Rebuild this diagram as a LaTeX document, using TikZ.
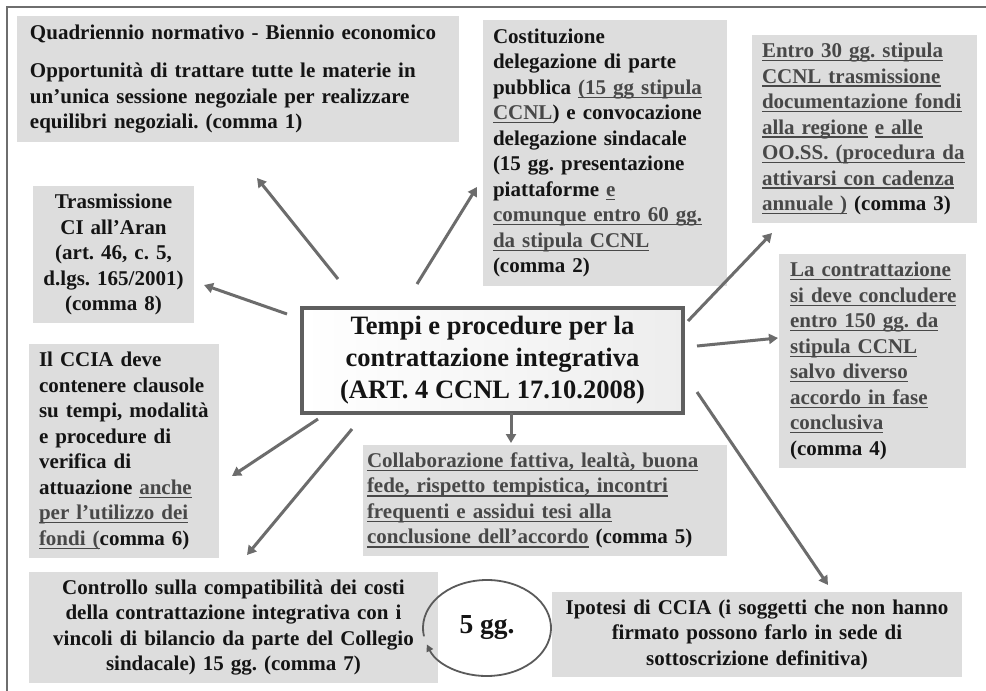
\documentclass[tikz,border=0pt]{standalone}
\usepackage{fontspec}
\setmainfont{Liberation Serif}
\usetikzlibrary{arrows.meta,shapes.geometric}
\frenchspacing

\definecolor{boxgray}{RGB}{221,221,221}
\definecolor{linkgray}{RGB}{108,108,108}
\definecolor{framegray}{RGB}{110,110,110}
\definecolor{ulgray}{RGB}{72,72,72}
\definecolor{coreborder}{RGB}{95,95,95}
\definecolor{inkdark}{RGB}{20,20,20}

% one printed line, never broken by TeX
\newcommand{\txl}[1]{\mbox{#1}}
% underlined passage: rule drawn under the measured text
\newcommand{\ulg}[1]{\textcolor{ulgray}{\setbox0\hbox{#1}\rlap{\rule[-3.6pt]{\wd0}{1.2pt}}\box0}}
\newcommand{\bodyfont}{\fontsize{21}{25.5}\selectfont\bfseries}

\tikzset{
  panel/.style={fill=boxgray, anchor=north west, inner ysep=0pt, outer sep=0pt,
                align=left, font=\bodyfont, text=inkdark},
  cpanel/.style={panel, align=center},
  link/.style={draw=linkgray, line width=3pt, -{Triangle[length=9pt,width=10pt]}},
  loopline/.style={draw=ulgray!90, line width=1.8pt, -{Triangle[length=7pt,width=7pt]}}
}

\begin{document}
\begin{tikzpicture}[x=1pt,y=-1pt]
\useasboundingbox (0,0) rectangle (986,691);
\fill[white] (0,0) rectangle (986,691);

% frame
\draw[framegray, line width=2pt] (7,691) -- (7,7) -- (986,7);

% central topic
\node[draw=coreborder, line width=3.5pt, left color=white, right color=gray!14,
      minimum width=381pt, minimum height=105pt, anchor=north west, outer sep=0pt,
      inner sep=0pt, align=center, text=inkdark,
      font=\fontsize{26.5}{32}\selectfont\bfseries] (core) at (302,308)
  {Tempi e procedure per la\\contrattazione integrativa\\(ART. 4 CCNL 17.10.2008)};

% comma 1
\node[panel, minimum width=442pt, minimum height=126pt, text width=416pt, inner xsep=13pt] (quad) at (17,16)
  {\txl{Quadriennio normativo - Biennio economico}\\[13pt]
   \txl{Opportunità di trattare tutte le materie in}\\
   \txl{un’unica sessione negoziale per realizzare}\\
   \txl{equilibri negoziali. (comma 1)}};

% comma 2
\node[panel, minimum width=244pt, minimum height=266pt, text width=224pt, inner xsep=10pt] (cost) at (483,20)
  {\txl{Costituzione}\\
   \txl{delegazione di parte}\\
   \txl{pubblica \ulg{(15 gg stipula}}\\
   \txl{\ulg{CCNL}) e convocazione}\\
   \txl{delegazione sindacale}\\
   \txl{(15 gg. presentazione}\\
   \txl{piattaforme \ulg{e}}\\
   \txl{\ulg{comunque entro 60 gg.}}\\
   \txl{\ulg{da stipula CCNL}}\\
   \txl{(comma 2)}};

% comma 3
\node[panel, minimum width=225pt, minimum height=188pt, text width=205pt, inner xsep=10pt] (entro) at (752,35)
  {\txl{\ulg{Entro 30 gg. stipula}}\\
   \txl{\ulg{CCNL trasmissione}}\\
   \txl{\ulg{documentazione fondi}}\\
   \txl{\ulg{alla regione} \ulg{e alle}}\\
   \txl{\ulg{OO.SS. (procedura da}}\\
   \txl{\ulg{attivarsi con cadenza}}\\
   \txl{\ulg{annuale )} (comma 3)}};

% comma 4
\node[panel, minimum width=187pt, minimum height=214pt, text width=165pt, inner xsep=11pt] (conc) at (779,254)
  {\txl{\ulg{La contrattazione}}\\
   \txl{\ulg{si deve concludere}}\\
   \txl{\ulg{entro 150 gg. da}}\\
   \txl{\ulg{stipula CCNL}}\\
   \txl{\ulg{salvo diverso}}\\
   \txl{\ulg{accordo in fase}}\\
   \txl{\ulg{conclusiva}}\\
   \txl{(comma 4)}};

% comma 8
\node[cpanel, minimum width=161pt, minimum height=137pt, text width=151pt, inner xsep=5pt] (tras) at (33,186)
  {\txl{Trasmissione}\\
   \txl{CI all’Aran}\\
   \txl{(art. 46, c. 5,}\\
   \txl{d.lgs. 165/2001)}\\
   \txl{(comma 8)}};

% comma 6
\node[panel, minimum width=190pt, minimum height=214pt, text width=170pt, inner xsep=10pt] (ccia) at (29,344)
  {\txl{Il CCIA deve}\\
   \txl{contenere clausole}\\
   \txl{su tempi, modalità}\\
   \txl{e procedure di}\\
   \txl{verifica di}\\
   \txl{attuazione \ulg{anche}}\\
   \txl{\ulg{per l’utilizzo dei}}\\
   \txl{\ulg{fondi (}comma 6)}};

% comma 5
\node[panel, minimum width=364pt, minimum height=111pt, text width=356pt, inner xsep=4pt] (coll) at (363,445)
  {\txl{\ulg{Collaborazione fattiva, lealtà, buona}}\\
   \txl{\ulg{fede, rispetto tempistica, incontri}}\\
   \txl{\ulg{frequenti e assidui tesi alla}}\\
   \txl{\ulg{conclusione dell’accordo} (comma 5)}};

% comma 7
\node[cpanel, minimum width=409pt, minimum height=111pt, text width=399pt, inner xsep=5pt] (ctrl) at (29,572)
  {\txl{Controllo sulla compatibilità dei costi}\\
   \txl{della contrattazione integrativa con i}\\
   \txl{vincoli di bilancio da parte del Collegio}\\
   \txl{sindacale) 15 gg. (comma 7)}};

% hypothesis of agreement
\node[cpanel, minimum width=410pt, minimum height=85pt, text width=400pt, inner xsep=5pt] (ipot) at (552,592)
  {\txl{Ipotesi di CCIA (i soggetti che non hanno}\\
   \txl{firmato possono farlo in sede di}\\
   \txl{sottoscrizione definitiva)}};

% five-day loop
\node[ellipse, minimum width=128pt, minimum height=96pt, inner sep=0pt, text=inkdark,
      font=\fontsize{27.5}{33}\selectfont\bfseries] (five) at (487,628) {5 gg.};
\draw[loopline] (five.center) ++(-190:64 and 48)
  arc[start angle=-190, end angle=160, x radius=64, y radius=48];

% connector end points
\coordinate (sQuad) at (338,279);  \coordinate (tQuad) at (257,178);
\coordinate (sCost) at (417,284);  \coordinate (tCost) at (477,187);
\coordinate (sTras) at (287,314);  \coordinate (tTras) at (204,285);
\coordinate (sEntro) at (688,321); \coordinate (tEntro) at (772,233);
\coordinate (sConc) at (697,346);  \coordinate (tConc) at (778,338);
\coordinate (tColl) at (511,443);
\coordinate (sIpot) at (697,392);  \coordinate (tIpot) at (828,585);
\coordinate (sCcia) at (318,419);  \coordinate (tCcia) at (232,476);
\coordinate (sCtrl) at (352,429);  \coordinate (tCtrl) at (247,555);

\draw[link] (sQuad) -- (tQuad);
\draw[link] (sCost) -- (tCost);
\draw[link] (sTras) -- (tTras);
\draw[link] (sEntro) -- (tEntro);
\draw[link] (sConc) -- (tConc);
\draw[link] (core.south -| tColl) -- (tColl);
\draw[link] (sIpot) -- (tIpot);
\draw[link] (sCcia) -- (tCcia);
\draw[link] (sCtrl) -- (tCtrl);
\end{tikzpicture}
\end{document}
